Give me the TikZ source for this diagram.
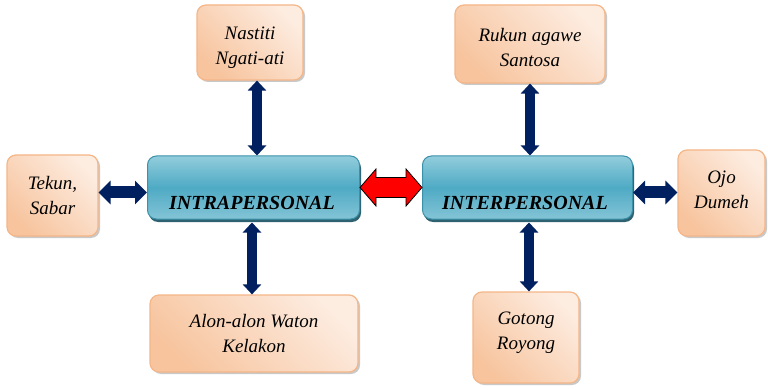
\documentclass[tikz,border=0pt]{standalone}
\usepackage{fontspec}
\setmainfont{Liberation Serif}
\usetikzlibrary{arrows.meta,shadows,calc}

\definecolor{navy}{RGB}{0,32,96}
\definecolor{peachD}{RGB}{247,196,158}
\definecolor{peachL}{RGB}{253,236,224}
\definecolor{peachB}{RGB}{245,182,136}
\definecolor{blueT}{RGB}{146,205,220}
\definecolor{blueM}{RGB}{78,170,196}
\definecolor{blueB}{RGB}{132,196,214}
\definecolor{blueE}{RGB}{60,145,170}
\definecolor{blueS}{RGB}{35,90,106}

% invisible struts that move a two-line text block inside its box
\newcommand\topstrut[1]{\rule{0pt}{#1}}
\newcommand\botstrut[1]{\rule[-#1]{0pt}{0pt}}

\tikzset{
  idea/.style={rectangle, rounded corners=9pt, draw=peachB, line width=1.2pt,
    left color=peachD, right color=peachL, shading angle=135,
    drop shadow={shadow xshift=2pt, shadow yshift=-2pt, opacity=0.35, fill=black!60},
    align=center, inner sep=0pt,
    font=\itshape\fontsize{19}{25}\selectfont},
  core/.style={rectangle, rounded corners=9pt, draw=blueE, line width=1pt,
    top color=blueT, bottom color=blueB, middle color=blueM,
    drop shadow={shadow xshift=1.5pt, shadow yshift=-3pt, opacity=0.95, fill=blueS},
    minimum height=63pt, inner sep=0pt},
  coretext/.style={anchor=base, inner sep=0pt,
    font=\bfseries\itshape\fontsize{20}{24}\selectfont},
  vlink/.style={draw=navy, line width=10pt,
    {Triangle[length=10pt,width=18pt]}-{Triangle[length=10pt,width=18pt]}},
  hlink/.style={draw=navy, line width=12pt,
    {Triangle[length=12pt,width=23pt]}-{Triangle[length=12pt,width=23pt]}},
  bothways/.style={fill=red, draw=black, line width=0.8pt, line join=miter}
}

\begin{document}
\begin{tikzpicture}[x=1pt,y=-1pt]
  \useasboundingbox[fill=white] (0,0) rectangle (768,390);

  % central concepts
  \node[core, minimum width=212pt] (intra) at (253.5,187.5) {};
  \node[core, minimum width=210pt] (inter) at (527.5,187.5) {};
  \node[coretext] (intraLabel) at (252,210) {INTRAPERSONAL};
  \node[coretext] (interLabel) at (525,210) {INTERPERSONAL};

  % surrounding values
  \node[idea, minimum width=106pt, minimum height=75pt] (nast) at (250,42.5) {\topstrut{23.5pt}Nastiti\\Ngati-ati};
  \node[idea, minimum width=150pt, minimum height=78pt] (ruk) at (530,44) {\topstrut{19.5pt}Rukun agawe\\Santosa};
  \node[idea, minimum width=91pt, minimum height=81pt] (tek) at (52.5,195.5) {Tekun,\\Sabar};
  \node[idea, minimum width=87pt, minimum height=86pt] (ojo) at (721.5,193) {Ojo\\Dumeh\botstrut{6pt}};
  \node[idea, minimum width=208pt, minimum height=77pt] (alon) at (254,333.5) {Alon-alon Waton\\Kelakon};
  \node[idea, minimum width=106pt, minimum height=91pt] (got) at (526,337.5) {Gotong\\Royong\botstrut{14pt}};

  % attachment points on the central boxes
  \coordinate (intraL) at ([yshift=-5pt]intra.west);
  \coordinate (interR) at ([yshift=-5pt]inter.east);
  \coordinate (intraT) at ([xshift=7pt]nast.south |- intra.north);
  \coordinate (intraB) at ([xshift=-1.5pt,yshift=-3pt]intra.south);
  \coordinate (interB) at ([xshift=1.5pt,yshift=-3pt]inter.south);

  % connectors
  \draw[vlink] ([xshift=7pt]nast.south) -- (intraT);
  \draw[vlink] (intraB) -- (intraB |- alon.north);
  \draw[vlink] (ruk.south) -- (ruk.south |- inter.north);
  \draw[vlink] (interB) -- (interB |- got.north);
  \draw[hlink] (intraL) -- (tek.east |- intraL);
  \draw[hlink] (interR) -- (ojo.west |- interR);

  % link between the two central concepts
  \draw[bothways] (intra.east) -- ++(16pt,18.5pt) -- ++(0,-8.5pt)
    -- ($(inter.west)+(-16pt,10pt)$) -- ++(0,8.5pt) -- (inter.west)
    -- ++(-16pt,-18.5pt) -- ++(0,8.5pt)
    -- ($(intra.east)+(16pt,-10pt)$) -- ++(0,-8.5pt) -- cycle;
\end{tikzpicture}
\end{document}
